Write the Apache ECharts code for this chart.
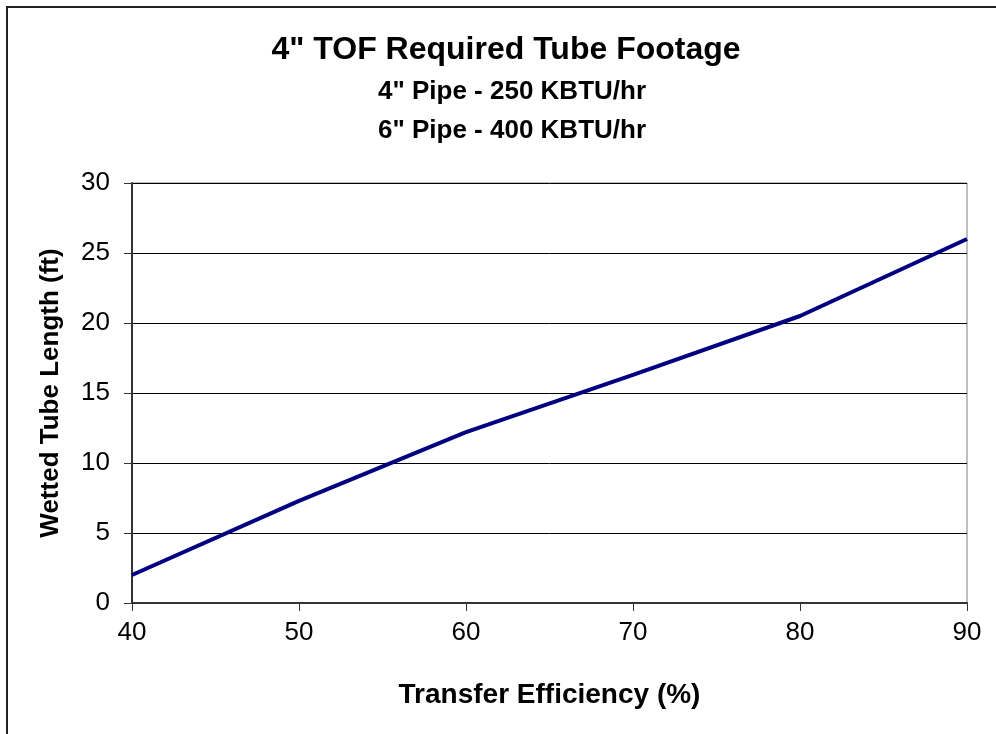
<!DOCTYPE html>
<html>
<head>
<meta charset="utf-8">
<script src="https://cdn.jsdelivr.net/npm/echarts@6/dist/echarts.min.js"></script>
<style>
html,body{margin:0;padding:0;background:#fff;}
#c{width:996px;height:734px;}
</style>
</head>
<body>
<div id="c"></div>
<script>
const efficiency = [40, 50, 60, 70, 80, 90];
const tubeLength = [2.0, 7.3, 12.2, 16.3, 20.5, 26.0];
const titleText = '4" TOF Required Tube Footage';
const subLines = ['4" Pipe - 250 KBTU/hr', '6" Pipe - 400 KBTU/hr'];

const chart = echarts.init(document.getElementById('c'));
const font = '"Liberation Sans", Arial, sans-serif';
chart.setOption({
  backgroundColor: '#fff',
  animation: false,
  graphic: [
    {type: 'rect', shape: {x: 7, y: 7, width: 1200, height: 1000}, style: {fill: 'none', stroke: '#222', lineWidth: 2}, silent: true},
    {type: 'text', x: 506, y: 50, style: {text: titleText, font: 'bold 32px ' + font, fill: '#000', align: 'center', verticalAlign: 'middle'}},
    {type: 'text', x: 512, y: 92, style: {text: subLines[0], font: 'bold 26px ' + font, fill: '#000', align: 'center', verticalAlign: 'middle'}},
    {type: 'text', x: 512, y: 131, style: {text: subLines[1], font: 'bold 26px ' + font, fill: '#000', align: 'center', verticalAlign: 'middle'}}
  ],
  grid: {left: 132, right: 29, top: 183, bottom: 131, show: true, borderColor: '#808080', borderWidth: 1, containLabel: false},
  xAxis: {
    type: 'value', min: 40, max: 90, interval: 10,
    name: 'Transfer Efficiency (%)', nameLocation: 'middle', nameGap: 78,
    nameTextStyle: {fontFamily: font, fontWeight: 'bold', fontSize: 28, color: '#000'},
    axisLine: {show: true, lineStyle: {color: '#333', width: 2}},
    axisTick: {show: true, inside: false, length: 8, lineStyle: {color: '#333'}},
    axisLabel: {fontFamily: font, fontSize: 26, color: '#000', margin: 17},
    splitLine: {show: false}
  },
  yAxis: {
    type: 'value', min: 0, max: 30, interval: 5,
    name: 'Wetted Tube Length (ft)', nameLocation: 'middle', nameGap: 68, nameRotate: 90,
    nameTextStyle: {fontFamily: font, fontWeight: 'bold', fontSize: 26, color: '#000'},
    axisLine: {show: true, lineStyle: {color: '#333', width: 2}},
    axisTick: {show: true, inside: false, length: 8, lineStyle: {color: '#333'}},
    axisLabel: {fontFamily: font, fontSize: 26, color: '#000', margin: 22},
    splitLine: {show: true, lineStyle: {color: '#000', width: 1}}
  },
  series: [{
    type: 'line',
    data: efficiency.map((x, i) => [x, tubeLength[i]]),
    showSymbol: false,
    lineStyle: {color: '#000080', width: 4},
    itemStyle: {color: '#000080'}
  }]
});
</script>
</body>
</html>
